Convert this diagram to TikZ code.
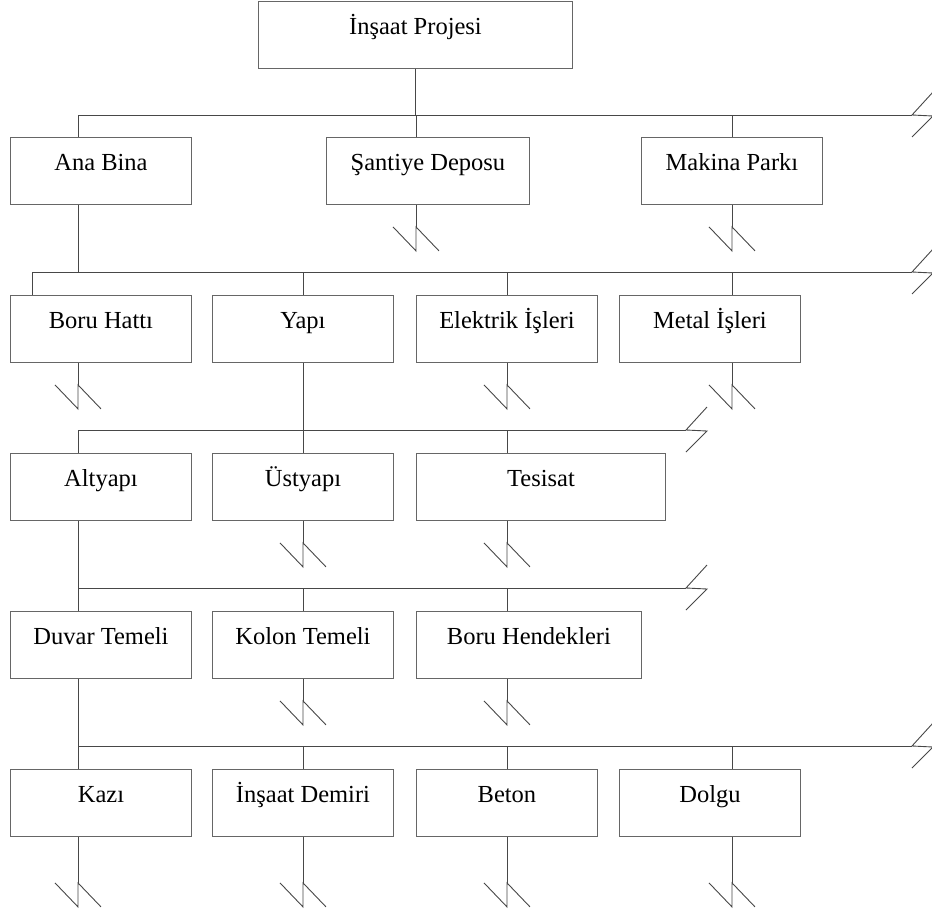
\documentclass[tikz,border=0pt]{standalone}
\usepackage{fontspec}
\setmainfont{Liberation Serif}
\begin{document}
\begin{tikzpicture}[x=1pt,y=-1pt,
  ln/.style={draw=black!72,line width=0.9pt},
  box/.style={draw=black!60,line width=0.9pt,rectangle,anchor=north west,
    inner xsep=0pt,inner ysep=0pt,text height=33pt,text depth=34pt,
    font=\fontsize{24.5}{29}\selectfont}]
\newcommand\vbrk[1]{\draw[ln] (#1) ++(-23,0) -- ++(23,24) -- ++(0,-24) -- ++(23,24);}
\newcommand\hbrk[1]{\draw[ln] (#1) ++(0,22) -- ++(21,-21) -- ++(-21,-1) -- ++(21,-23);}
\useasboundingbox (0,0) rectangle (932,911);

% column positions of the vertical connectors
\coordinate (k32) at (32,0);
\coordinate (k78) at (78,0);
\coordinate (k303) at (303,0);
\coordinate (k416) at (416,0);
\coordinate (k507) at (507,0);
\coordinate (k732) at (732,0);

% boxes
\node[box,minimum width=314pt] (top) at (258,1) {İnşaat Projesi};

\node[box,minimum width=181pt] (ana) at (10,137) {Ana Bina};
\node[box,minimum width=203pt] (santiye) at (326,137) {Şantiye Deposu};
\node[box,minimum width=181pt] (makina) at (641,137) {Makina Parkı};

\node[box,minimum width=181pt] (boru) at (10,295) {Boru Hattı};
\node[box,minimum width=181pt] (yapi) at (212,295) {Yapı};
\node[box,minimum width=181pt] (elek) at (416,295) {Elektrik İşleri};
\node[box,minimum width=181pt] (metal) at (619,295) {Metal İşleri};

\node[box,minimum width=181pt] (alt) at (10,453) {Altyapı};
\node[box,minimum width=181pt] (ust) at (212,453) {Üstyapı};
\node[box,minimum width=249pt] (tes) at (416,453) {Tesisat};

\node[box,minimum width=181pt] (duvar) at (10,611) {Duvar Temeli};
\node[box,minimum width=181pt] (kolon) at (212,611) {Kolon Temeli};
\node[box,minimum width=225pt] (hend) at (416,611) {Boru Hendekleri};

\node[box,minimum width=181pt] (kazi) at (10,769) {Kazı};
\node[box,minimum width=181pt] (demir) at (212,769) {İnşaat Demiri};
\node[box,minimum width=181pt] (beton) at (416,769) {Beton};
\node[box,minimum width=181pt] (dolgu) at (619,769) {Dolgu};

% horizontal buses
\coordinate (b1) at (0,115);
\coordinate (b2) at (0,272);
\coordinate (b3) at (0,430);
\coordinate (b4) at (0,588);
\coordinate (b5) at (0,746);
\coordinate (b1e) at (912,115);
\coordinate (b2e) at (912,272);
\coordinate (b3e) at (686,430);
\coordinate (b4e) at (686,588);
\coordinate (b5e) at (912,746);

\draw[ln] (k78 |- b1) -- (b1e); \hbrk{b1e}
\draw[ln] (k32 |- b2) -- (b2e); \hbrk{b2e}
\draw[ln] (k78 |- b3) -- (b3e); \hbrk{b3e}
\draw[ln] (k78 |- b4) -- (b4e); \hbrk{b4e}
\draw[ln] (k78 |- b5) -- (b5e); \hbrk{b5e}

% parent to bus
\draw[ln] (top.south) -- (top.south |- b1);
\draw[ln] (k78 |- ana.south) -- (k78 |- b2);
\draw[ln] (k303 |- yapi.south) -- (k303 |- b3);
\draw[ln] (k78 |- alt.south) -- (k78 |- b4);
\draw[ln] (k78 |- duvar.south) -- (k78 |- b5);

% bus to child
\foreach \n/\k/\b in {ana/k78/b1,santiye/k416/b1,makina/k732/b1,
  boru/k32/b2,yapi/k303/b2,elek/k507/b2,metal/k732/b2,
  alt/k78/b3,ust/k303/b3,tes/k507/b3,
  duvar/k78/b4,kolon/k303/b4,hend/k507/b4,
  kazi/k78/b5,demir/k303/b5,beton/k507/b5,dolgu/k732/b5}
  {\draw[ln] (\k |- \b) -- (\k |- \n.north);}

% broken stubs below boxes
\foreach \n/\k/\l in {santiye/k416/22,makina/k732/22,
  boru/k78/22,elek/k507/22,metal/k732/22,
  ust/k303/22,tes/k507/22,kolon/k303/22,hend/k507/22,
  kazi/k78/46,demir/k303/46,beton/k507/46,dolgu/k732/46}
  {\draw[ln] (\k |- \n.south) -- ++(0,\l) coordinate (\n-end); \vbrk{\n-end}}
\end{tikzpicture}
\end{document}
